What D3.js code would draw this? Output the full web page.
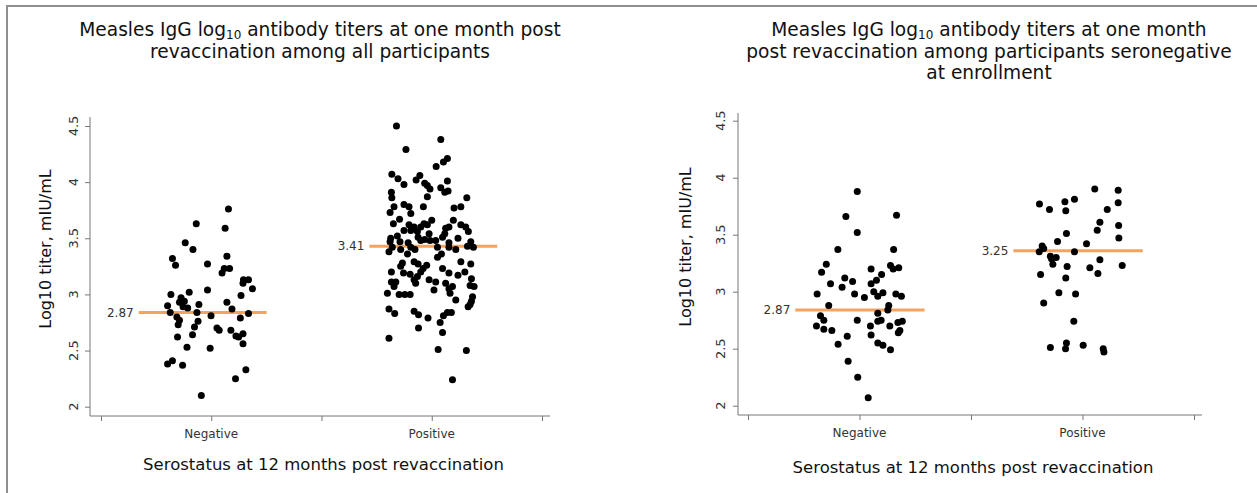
<!DOCTYPE html>
<html>
<head>
<meta charset="utf-8">
<script src="https://cdn.jsdelivr.net/npm/d3@7"></script>
<style>
  html, body { margin: 0; padding: 0; background: #fff; }
  svg { display: block; font-family: "DejaVu Sans", Verdana, sans-serif; }
</style>
</head>
<body>
<div id="chart"></div>
<script>
// categorias e rótulos
const categories = ["Negative", "Positive"];
const yTicks = [2, 2.5, 3, 3.5, 4, 4.5];
const xTitle = "Serostatus at 12 months post revaccination";
const yTitle = "Log10 titer, mIU/mL";

const allTitle = [
    "Measles IgG log_{10} antibody titers at one month post",
    "revaccination among all participants"
];
const seronegTitle = [
    "Measles IgG log_{10} antibody titers at one month",
    "post revaccination among participants seronegative",
    "at enrollment"
];

// pontos: [jitter (fração da categoria), log10 titer]
const allNegative = [
    [0.078, 3.76], [-0.068, 3.63], [0.063, 3.59], [-0.118, 3.46], [-0.083, 3.40],
    [-0.176, 3.32], [-0.162, 3.26], [-0.017, 3.27], [0.071, 3.34], [0.059, 3.23],
    [0.083, 3.23], [0.049, 3.19], [0.146, 3.13], [0.169, 3.13], [0.144, 3.10],
    [0.187, 3.05], [-0.017, 3.04], [0.135, 2.99], [-0.183, 3.00], [-0.100, 3.02],
    [-0.137, 2.97], [-0.144, 2.93], [-0.122, 2.94], [-0.198, 2.90], [-0.128, 2.89],
    [-0.107, 2.88], [-0.056, 2.91], [0.071, 2.93], [0.094, 2.87], [-0.186, 2.84],
    [-0.065, 2.84], [-0.156, 2.80], [-0.001, 2.81], [0.132, 2.79], [0.169, 2.83],
    [-0.144, 2.77], [-0.060, 2.76], [-0.150, 2.73], [-0.076, 2.71], [0.026, 2.70],
    [0.036, 2.68], [0.089, 2.68], [-0.085, 2.64], [0.112, 2.63], [0.124, 2.62],
    [0.144, 2.65], [-0.153, 2.62], [0.144, 2.56], [-0.110, 2.53], [-0.005, 2.52],
    [-0.198, 2.38], [-0.176, 2.41], [-0.130, 2.37], [0.157, 2.33], [0.110, 2.25],
    [-0.045, 2.10]
];
const allPositive = [
    [-0.160, 4.50], [0.041, 4.38], [-0.117, 4.29], [0.071, 4.21], [0.053, 4.18],
    [0.020, 4.14], [-0.181, 4.07], [-0.153, 4.03], [-0.054, 4.06], [-0.071, 4.02],
    [-0.126, 3.98], [-0.032, 3.99], [-0.020, 3.97], [0.071, 4.01], [0.041, 3.95],
    [-0.008, 3.94], [-0.183, 3.91], [0.059, 3.91], [0.074, 3.92], [-0.020, 3.87],
    [-0.181, 3.86], [0.159, 3.86], [-0.126, 3.80], [-0.171, 3.78], [-0.103, 3.78],
    [-0.038, 3.78], [0.101, 3.77], [0.132, 3.78], [-0.189, 3.73], [-0.095, 3.72],
    [-0.146, 3.67], [-0.174, 3.63], [-0.103, 3.62], [-0.035, 3.63], [0.000, 3.66],
    [0.098, 3.66], [-0.080, 3.60], [-0.050, 3.60], [-0.020, 3.62], [0.063, 3.59],
    [0.078, 3.60], [0.132, 3.62], [0.154, 3.60], [-0.126, 3.57], [-0.095, 3.57],
    [-0.065, 3.56], [-0.156, 3.52], [-0.062, 3.51], [-0.012, 3.54], [0.059, 3.54],
    [0.166, 3.56], [-0.186, 3.50], [-0.189, 3.47], [-0.144, 3.47], [-0.107, 3.46],
    [-0.050, 3.48], [-0.032, 3.49], [-0.008, 3.48], [0.018, 3.48], [0.049, 3.51],
    [0.078, 3.46], [0.119, 3.50], [0.177, 3.47], [-0.179, 3.42], [-0.095, 3.42],
    [0.026, 3.42], [0.162, 3.43], [0.189, 3.42], [-0.194, 3.38], [-0.141, 3.40],
    [-0.110, 3.36], [-0.076, 3.40], [0.026, 3.33], [0.044, 3.36], [0.109, 3.40],
    [0.078, 3.42], [-0.133, 3.28], [-0.141, 3.25], [-0.080, 3.29], [-0.062, 3.27],
    [-0.023, 3.26], [-0.039, 3.23], [0.132, 3.29], [0.177, 3.27], [0.049, 3.23],
    [-0.183, 3.20], [-0.128, 3.19], [-0.098, 3.18], [-0.050, 3.20], [0.078, 3.19],
    [0.119, 3.17], [0.150, 3.20], [-0.183, 3.11], [-0.163, 3.11], [-0.080, 3.13],
    [-0.065, 3.16], [-0.012, 3.13], [-0.073, 3.10], [0.018, 3.11], [0.063, 3.10],
    [0.180, 3.14], [-0.171, 3.07], [0.010, 3.04], [0.078, 3.05], [0.094, 3.07],
    [0.174, 3.08], [0.192, 3.07], [-0.201, 3.01], [-0.148, 3.00], [-0.122, 3.00],
    [-0.098, 3.00], [0.083, 3.01], [0.185, 2.98], [0.109, 2.95], [0.180, 2.94],
    [0.174, 2.91], [0.165, 2.89], [-0.194, 2.87], [-0.168, 2.83], [-0.080, 2.85],
    [-0.060, 2.82], [0.071, 2.84], [0.089, 2.84], [0.053, 2.81], [-0.017, 2.79],
    [0.038, 2.75], [-0.060, 2.70], [0.049, 2.66], [-0.194, 2.61], [0.029, 2.51],
    [0.157, 2.50], [0.094, 2.24]
];
const seronegNegative = [
    [-0.010, 3.88], [-0.061, 3.66], [0.166, 3.67], [-0.010, 3.52], [-0.097, 3.37],
    [0.153, 3.37], [-0.149, 3.24], [-0.170, 3.17], [0.139, 3.23], [0.151, 3.20],
    [0.176, 3.21], [0.052, 3.20], [0.099, 3.15], [-0.066, 3.12], [-0.031, 3.09],
    [0.076, 3.10], [0.052, 3.07], [-0.130, 3.07], [-0.078, 3.04], [0.064, 3.00],
    [-0.190, 2.98], [-0.022, 2.98], [0.082, 2.96], [0.105, 2.99], [0.022, 2.95],
    [0.163, 2.98], [0.188, 2.96], [-0.138, 2.88], [0.131, 2.88], [0.127, 2.84],
    [0.082, 2.81], [-0.175, 2.79], [-0.160, 2.75], [-0.010, 2.75], [0.082, 2.74],
    [0.097, 2.75], [0.172, 2.73], [0.192, 2.74], [-0.193, 2.70], [-0.160, 2.67],
    [-0.124, 2.66], [0.049, 2.70], [0.136, 2.70], [0.181, 2.66], [0.174, 2.64],
    [0.052, 2.62], [-0.055, 2.61], [-0.096, 2.54], [0.082, 2.55], [0.105, 2.53],
    [0.139, 2.49], [-0.051, 2.39], [-0.008, 2.25], [0.039, 2.07]
];
const seronegPositive = [
    [0.055, 3.90], [0.160, 3.89], [-0.036, 3.81], [-0.079, 3.79], [-0.193, 3.77],
    [0.160, 3.78], [-0.148, 3.72], [-0.075, 3.71], [0.111, 3.72], [0.078, 3.61],
    [0.162, 3.58], [0.066, 3.54], [-0.072, 3.51], [0.163, 3.47], [-0.112, 3.44],
    [0.018, 3.42], [-0.181, 3.40], [-0.174, 3.38], [-0.194, 3.35], [-0.036, 3.35],
    [-0.144, 3.31], [-0.118, 3.30], [-0.139, 3.29], [0.078, 3.28], [-0.133, 3.24],
    [-0.069, 3.22], [0.033, 3.21], [0.178, 3.23], [0.069, 3.16], [-0.188, 3.15],
    [-0.075, 3.12], [-0.106, 2.99], [-0.031, 2.98], [-0.174, 2.90], [-0.039, 2.74],
    [-0.072, 2.55], [-0.144, 2.51], [-0.076, 2.50], [0.003, 2.53], [0.093, 2.50],
    [0.096, 2.47]
];

// linhas de resumo (posição desenhada) e rótulos
const allMedians = [2.84, 3.43];
const allMedianLabels = ["2.87", "3.41"];
const allMedianShift = [-0.039, 0.007];
const seronegMedians = [2.84, 3.36];
const seronegMedianLabels = ["2.87", "3.25"];
const seronegMedianShift = [0.002, -0.020];

const width = 1257, height = 493;

const svg = d3.select("#chart").append("svg")
    .attr("width", width)
    .attr("height", height);

svg.append("rect").attr("width", width).attr("height", height).attr("fill", "#fff");

// moldura
svg.append("line").attr("x1", 7).attr("x2", width).attr("y1", 6).attr("y2", 6)
    .attr("stroke", "#8f8f8f").attr("stroke-width", 2);
svg.append("line").attr("x1", 7).attr("x2", 7).attr("y1", 5).attr("y2", height)
    .attr("stroke", "#8f8f8f").attr("stroke-width", 2);

const panels = [
    {
        title: allTitle, groups: [allNegative, allPositive],
        medians: allMedians, labels: allMedianLabels, shift: allMedianShift,
        left: 90, right: 550, top: 117, bottom: 416,
        xr: [101, 542], yr: [406.7, 126],
        titleX: 320, titleY: 30, yTitleX: 45, yTitleY: 249, xTitleY: 470, tickLabelX: 73
    },
    {
        title: seronegTitle, groups: [seronegNegative, seronegPositive],
        medians: seronegMedians, labels: seronegMedianLabels, shift: seronegMedianShift,
        left: 738, right: 1202, top: 113, bottom: 415,
        xr: [748, 1194], yr: [405.7, 120.7],
        titleX: 989, titleY: 30, yTitleX: 685, yTitleY: 247, xTitleY: 473, tickLabelX: 720
    }
];

panels.forEach(p => drawPanel(p));

function drawPanel(p) {
    const g = svg.append("g");

    const x = d3.scaleLinear().domain([-0.5, 1.5]).range(p.xr);
    const y = d3.scaleLinear().domain([2, 4.5]).range(p.yr);

    // título: uma linha por texto, com subscrito
    p.title.forEach((line, i) => {
        const t = g.append("text")
            .attr("x", p.titleX)
            .attr("y", p.titleY + 6 + i * 21.5)
            .attr("text-anchor", "middle")
            .attr("font-size", "18.6px")
            .attr("fill", "#111");
        const parts = line.split(/_\{(\d+)\}/);
        parts.forEach((part, k) => {
            const s = t.append("tspan").text(part);
            if (k % 2 === 1) {
                s.attr("font-size", "12px").attr("dy", 3);
            } else if (k > 0) {
                s.attr("dy", -3);
            }
        });
    });

    // eixo x
    const xAxis = g.append("g")
        .attr("transform", `translate(0,${p.bottom})`)
        .call(d3.axisBottom(x).tickValues([-0.5, 0, 0.5, 1, 1.5]).tickSize(5).tickFormat(""));
    xAxis.select(".domain").remove();
    xAxis.selectAll("line").attr("stroke", "#777");
    g.append("line")
        .attr("x1", p.left).attr("x2", p.right)
        .attr("y1", p.bottom).attr("y2", p.bottom)
        .attr("stroke", "#777");

    g.selectAll(".cat")
        .data(categories)
        .join("text")
        .attr("x", (d, i) => x(i))
        .attr("y", p.bottom + 22)
        .attr("text-anchor", "middle")
        .attr("font-size", "12px")
        .attr("fill", "#333")
        .text(d => d);

    // eixo y
    const yAxis = g.append("g")
        .attr("transform", `translate(${p.left},0)`)
        .call(d3.axisLeft(y).tickValues(yTicks).tickSize(5).tickFormat(""));
    yAxis.select(".domain").remove();
    yAxis.selectAll("line").attr("stroke", "#777");
    g.append("line")
        .attr("x1", p.left).attr("x2", p.left)
        .attr("y1", p.top).attr("y2", p.bottom)
        .attr("stroke", "#777");

    g.selectAll(".ytick")
        .data(yTicks)
        .join("text")
        .attr("transform", d => `translate(${p.tickLabelX},${y(d)}) rotate(-90)`)
        .attr("text-anchor", "middle")
        .attr("dy", "0.35em")
        .attr("font-size", "13px")
        .attr("fill", "#333")
        .text(d => d);

    // títulos dos eixos
    g.append("text")
        .attr("transform", `translate(${p.yTitleX},${p.yTitleY}) rotate(-90)`)
        .attr("text-anchor", "middle")
        .attr("dy", "0.35em")
        .attr("font-size", "16px")
        .attr("fill", "#111")
        .text(yTitle);

    g.append("text")
        .attr("x", x(0.5) + 2)
        .attr("y", p.xTitleY)
        .attr("text-anchor", "middle")
        .attr("font-size", "16.5px")
        .attr("fill", "#111")
        .text(xTitle);

    // linhas de resumo
    p.medians.forEach((m, i) => {
        const c = i + p.shift[i];
        g.append("line")
            .attr("x1", x(c - 0.29)).attr("x2", x(c + 0.29))
            .attr("y1", y(m)).attr("y2", y(m))
            .attr("stroke", "#f5a35c")
            .attr("stroke-width", 3);
        g.append("text")
            .attr("x", x(c - 0.29) - 5)
            .attr("y", y(m))
            .attr("dy", "0.35em")
            .attr("text-anchor", "end")
            .attr("font-size", "12px")
            .attr("fill", "#333")
            .text(p.labels[i]);
    });

    // pontos
    p.groups.forEach((pts, i) => {
        g.append("g")
            .selectAll("circle")
            .data(pts)
            .join("circle")
            .attr("cx", d => x(i + d[0]))
            .attr("cy", d => y(d[1]))
            .attr("r", 3.5)
            .attr("fill", "#000");
    });
}
</script>
</body>
</html>
